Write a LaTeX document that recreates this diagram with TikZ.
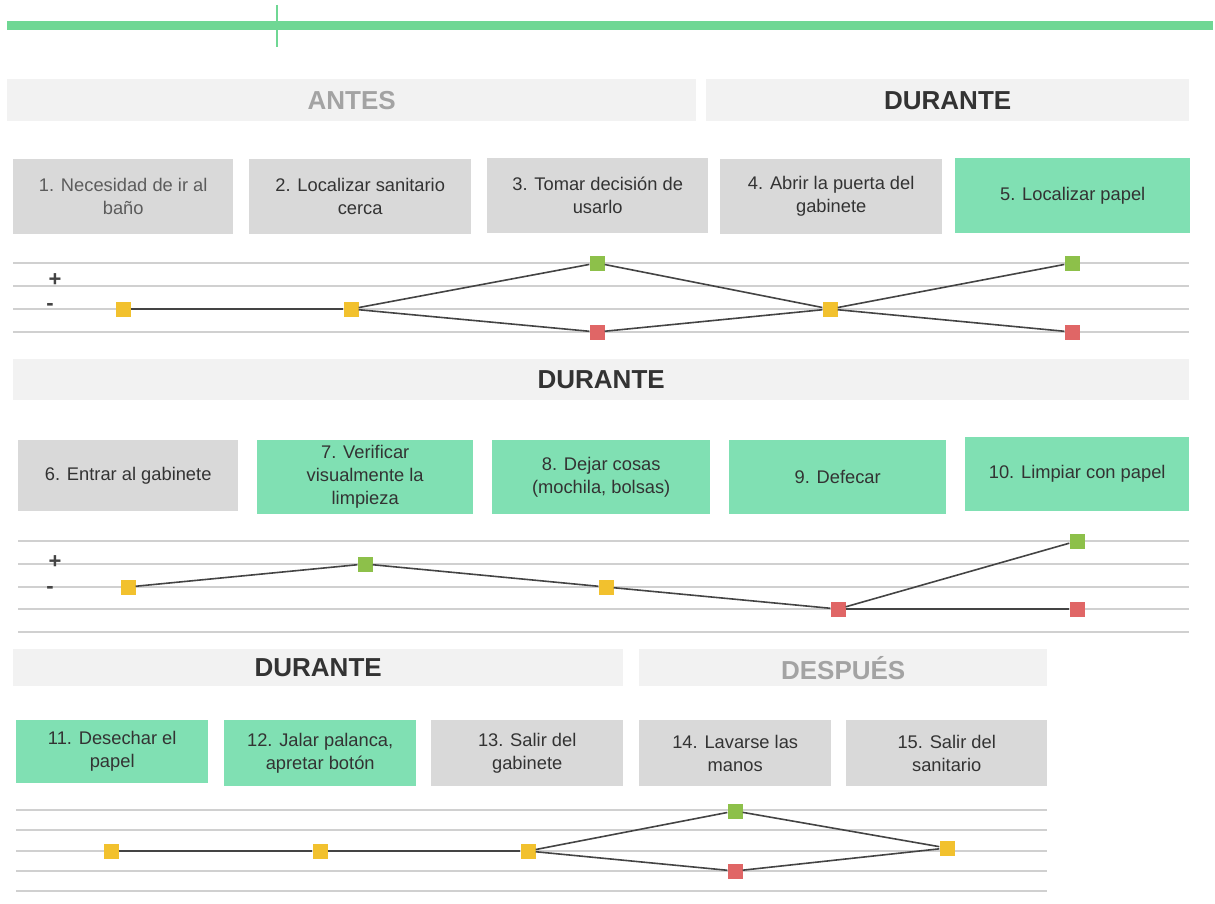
\documentclass[tikz,border=0pt]{standalone}
\usepackage{fontspec}
\setmainfont{Liberation Sans}

\definecolor{barra}{HTML}{6FD794}
\definecolor{fondo}{HTML}{F2F2F2}
\definecolor{gris}{HTML}{D9D9D9}
\definecolor{menta}{HTML}{80E0B3}
\definecolor{texto}{HTML}{333333}
\definecolor{tenue}{HTML}{A3A3A3}
\definecolor{guiagris}{HTML}{D0D0D0}
\definecolor{linea}{HTML}{444444}
\definecolor{amarillo}{HTML}{F2C12E}
\definecolor{verdept}{HTML}{8DC04A}
\definecolor{rojo}{HTML}{E06666}

\tikzset{
  caja/.style={anchor=north west, inner sep=0pt, align=center, text=texto,
    font=\fontsize{18.3}{23}\selectfont},
  fase/.style={anchor=north west, inner sep=0pt, fill=fondo,
    font=\fontsize{26}{30}\selectfont\bfseries},
  punto/.style={minimum size=15pt, inner sep=0pt},
  guia/.style={draw=guiagris, line width=2pt},
  tramo/.style={draw=linea, line width=1.6pt},
  signo/.style={text=linea, inner sep=0pt, font=\fontsize{22}{22}\selectfont\bfseries}
}

\begin{document}
\begin{tikzpicture}[x=1pt,y=-1pt]
\useasboundingbox (0,0) rectangle (1215,904);

% barra superior
\draw[barra, line width=9pt] (7,26) -- (1213,26);
\draw[barra, line width=2.5pt] (277,5) -- (277,47);

% fila 1
\node[fase, minimum width=689pt, minimum height=42pt, text=tenue] (antes) at (7,79) {ANTES};
\node[fase, minimum width=483pt, minimum height=42pt, text=texto] (durante1) at (706,79) {DURANTE};

\node[caja, fill=gris, minimum width=220pt, minimum height=75pt, text=texto!80] (b1) at (13,159) {1. Necesidad de ir al\\baño};
\node[caja, fill=gris, minimum width=222pt, minimum height=75pt] (b2) at (249,159) {2. Localizar sanitario\\cerca};
\node[caja, fill=gris, minimum width=221pt, minimum height=75pt] (b3) at (487,158) {3. Tomar decisión de\\usarlo};
\node[caja, fill=gris, minimum width=222pt, minimum height=75pt] (b4) at (720,159) {4. Abrir la puerta del\\gabinete};
\node[caja, fill=menta, minimum width=235pt, minimum height=75pt] (b5) at (955,158) {5. Localizar papel};

\foreach \y in {263,286,309,332}
  \draw[guia] (13,\y) -- (1189,\y);
\node[signo] (mas1) at (55,280) {+};
\node[signo] (menos1) at (50,307) {-};

\node[punto, fill=amarillo] (m1) at (123,309) {};
\node[punto, fill=amarillo] (m2) at (351,309) {};
\node[punto, fill=verdept] (m3a) at (597,263) {};
\node[punto, fill=rojo] (m3b) at (597,332) {};
\node[punto, fill=amarillo] (m4) at (830,309) {};
\node[punto, fill=verdept] (m5a) at (1072,263) {};
\node[punto, fill=rojo] (m5b) at (1072,332) {};
\draw[tramo] (m1) -- (m2);
\draw[tramo] (m2) -- (m3a);
\draw[tramo] (m2) -- (m3b);
\draw[tramo] (m3a) -- (m4);
\draw[tramo] (m3b) -- (m4);
\draw[tramo] (m4) -- (m5a);
\draw[tramo] (m4) -- (m5b);

% fila 2
\node[fase, minimum width=1176pt, minimum height=41pt, text=texto] (durante2) at (13,359) {DURANTE};

\node[caja, fill=gris, minimum width=220pt, minimum height=71pt] (b6) at (18,440) {6. Entrar al gabinete};
\node[caja, fill=menta, minimum width=216pt, minimum height=74pt] (b7) at (257,440) {7. Verificar\\visualmente la\\limpieza};
\node[caja, fill=menta, minimum width=218pt, minimum height=74pt] (b8) at (492,440) {8. Dejar cosas\\(mochila, bolsas)};
\node[caja, fill=menta, minimum width=217pt, minimum height=74pt] (b9) at (729,440) {9. Defecar};
\node[caja, fill=menta, minimum width=224pt, minimum height=74pt] (b10) at (965,437) {10. Limpiar con papel};

\foreach \y in {541,564,587,609,632}
  \draw[guia] (18,\y) -- (1189,\y);
\node[signo] (mas2) at (55,562) {+};
\node[signo] (menos2) at (50,590) {-};

\node[punto, fill=amarillo] (m6) at (128,587) {};
\node[punto, fill=verdept] (m7) at (365,564) {};
\node[punto, fill=amarillo] (m8) at (606,587) {};
\node[punto, fill=rojo] (m9) at (838,609) {};
\node[punto, fill=verdept] (m10a) at (1077,541) {};
\node[punto, fill=rojo] (m10b) at (1077,609) {};
\draw[tramo] (m6) -- (m7);
\draw[tramo] (m7) -- (m8);
\draw[tramo] (m8) -- (m9);
\draw[tramo] (m9) -- (m10a);
\draw[tramo] (m9) -- (m10b);

% fila 3
\node[fase, minimum width=610pt, minimum height=37pt, text=texto] (durante3) at (13,649) {DURANTE};
\node[fase, minimum width=408pt, minimum height=37pt, text=tenue] (despues) at (639,649) {DESPUÉS};

\node[caja, fill=menta, minimum width=192pt, minimum height=63pt] (b11) at (16,720) {11. Desechar el\\papel};
\node[caja, fill=menta, minimum width=192pt, minimum height=66pt] (b12) at (224,720) {12. Jalar palanca,\\apretar botón};
\node[caja, fill=gris, minimum width=192pt, minimum height=66pt] (b13) at (431,720) {13. Salir del\\gabinete};
\node[caja, fill=gris, minimum width=192pt, minimum height=66pt] (b14) at (639,720) {14. Lavarse las\\manos};
\node[caja, fill=gris, minimum width=201pt, minimum height=66pt] (b15) at (846,720) {15. Salir del\\sanitario};

\foreach \y in {810,830,851,871,891}
  \draw[guia] (16,\y) -- (1047,\y);

\node[punto, fill=amarillo] (m11) at (111,851) {};
\node[punto, fill=amarillo] (m12) at (320,851) {};
\node[punto, fill=amarillo] (m13) at (528,851) {};
\node[punto, fill=verdept] (m14a) at (735,811) {};
\node[punto, fill=rojo] (m14b) at (735,871) {};
\node[punto, fill=amarillo] (m15) at (947,848) {};
\draw[tramo] (m11) -- (m12);
\draw[tramo] (m12) -- (m13);
\draw[tramo] (m13) -- (m14a);
\draw[tramo] (m13) -- (m14b);
\draw[tramo] (m14a) -- (m15);
\draw[tramo] (m14b) -- (m15);
\end{tikzpicture}
\end{document}
